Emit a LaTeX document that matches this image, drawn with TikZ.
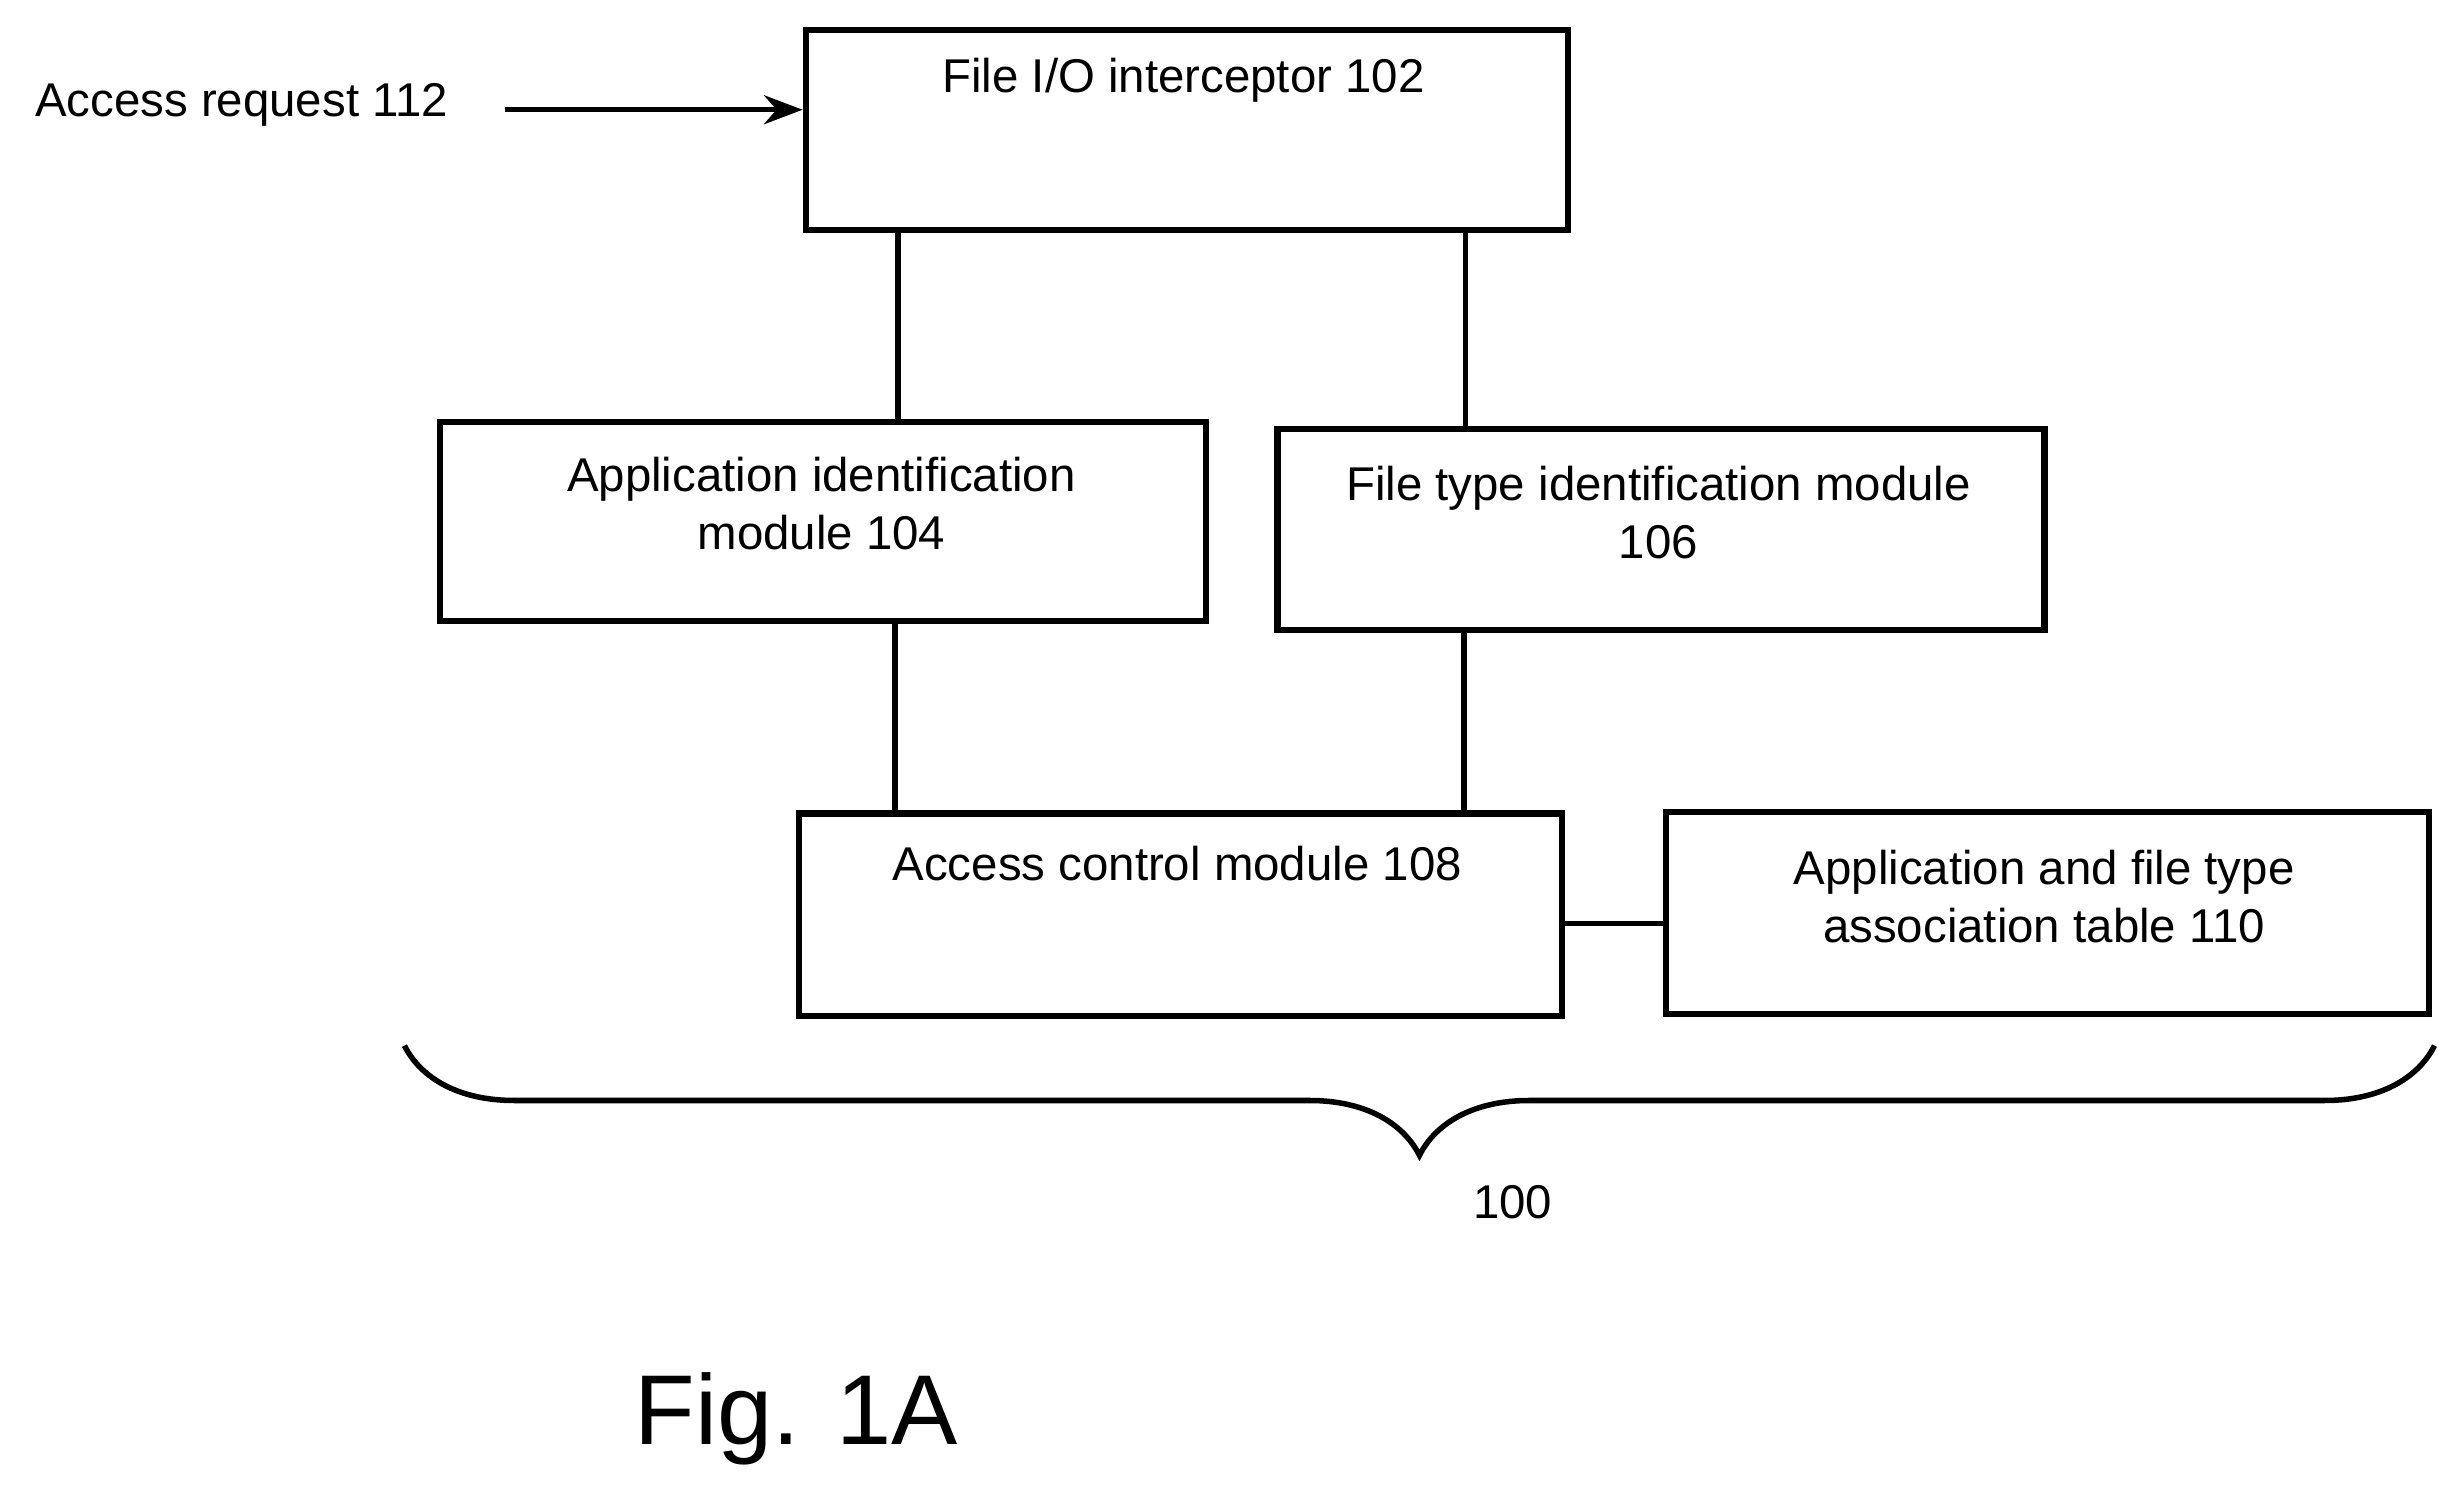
\documentclass[tikz,border=0pt]{standalone}
\usepackage{fontspec}
\setmainfont{Liberation Sans}
\usetikzlibrary{arrows.meta,decorations.pathreplacing}
\begin{document}
\begin{tikzpicture}[x=0.01cm,y=-0.01cm,
  box/.style={draw,line width=1.1pt,minimum width=#1,inner sep=0pt,anchor=north west},
  txt/.style={font=\fontsize{8.6pt}{10.5pt}\selectfont,align=center},
  ln/.style={line width=1pt}]
\useasboundingbox (0,0) rectangle (1568,954);
\node[box, minimum width=4.86cm, minimum height=1.28cm] (b102) at (512,17) {};
\node[box, minimum width=4.88cm, minimum height=1.27cm] (b104) at (279,267) {};
\node[box, minimum width=4.89cm, minimum height=1.28cm] (b106) at (813,272) {};
\node[box, minimum width=4.86cm, minimum height=1.29cm] (b108) at (508,517) {};
\node[box, minimum width=4.86cm, minimum height=1.29cm] (b110) at (1061,516) {};
\node[txt] (t102) at (755,51) {File I/O interceptor 102};
\node[txt] (t104) at (524,321) {Application identification\\module 104};
\node[txt] (t106) at (1058,327) {File type identification module\\106};
\node[txt] (t108) at (751,551) {Access control module 108};
\node[txt] (t110) at (1304,572) {Application and file type\\association table 110};
\node[txt,anchor=west] (req) at (10,67) {Access request 112};
\draw[ln,-{Stealth[length=7pt]}] (322,70) -- (b102.west |- 0,70);
\draw[ln] (b102.south -| 573,0) -- (b104.north -| 573,0);
\draw[ln] (b102.south -| 935,0) -- (b106.north -| 935,0);
\draw[ln] (b104.south -| 571,0) -- (b108.north -| 571,0);
\draw[ln] (b106.south -| 934,0) -- (b108.north -| 934,0);
\draw[ln] (b108.east |- 0,589) -- (b110.west |- 0,589);
\draw[ln,decorate,decoration={brace,amplitude=0.7cm}] (1553,667) -- (258,667);
\node[txt] (n100) at (965,767) {100};
\node[font=\fontsize{18pt}{20pt}\selectfont] (fig) at (508,905) {Fig. 1A};
\end{tikzpicture}
\end{document}
